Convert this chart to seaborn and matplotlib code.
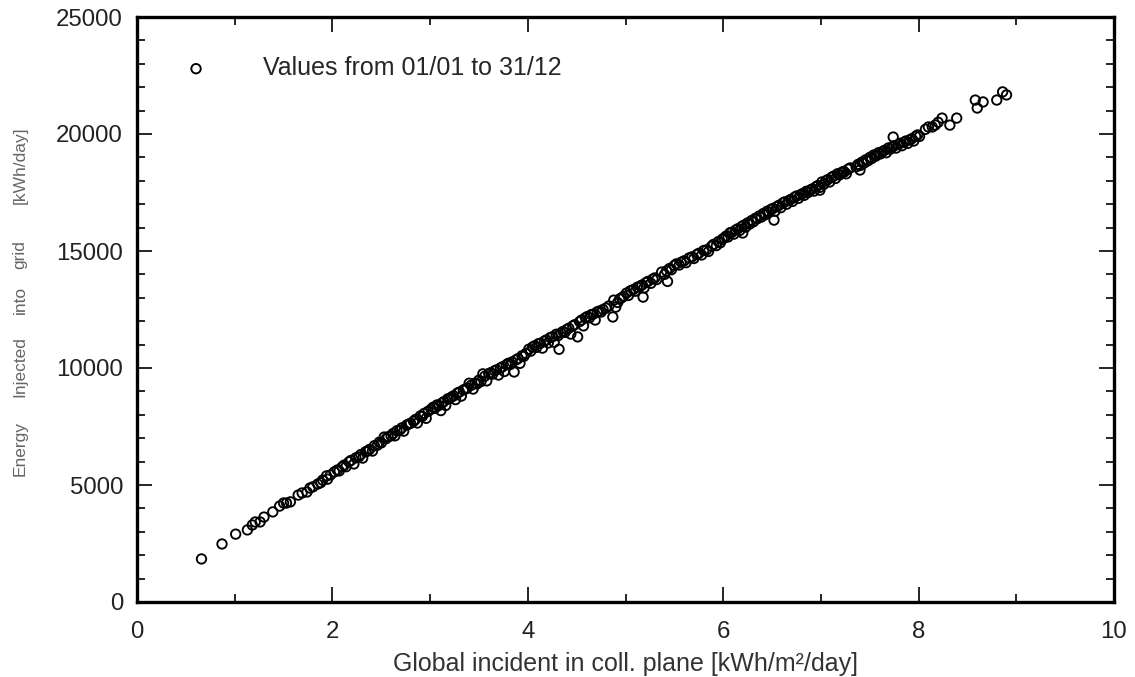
import matplotlib
matplotlib.use("Agg")
import matplotlib.pyplot as plt
from matplotlib.ticker import MultipleLocator
import seaborn as sns
import pandas as pd

# Global incident irradiation in collector plane [kWh/m2/day]
irradiance = [
    0.66, 0.87, 1.01, 1.13, 1.18, 1.21, 1.26, 1.30, 1.39, 1.46, 1.50, 1.53, 1.57, 1.65,
    1.69, 1.74, 1.77, 1.80, 1.85, 1.88, 1.90, 1.94, 1.95, 1.98,
    2.02, 2.05, 2.07, 2.10, 2.12, 2.14, 2.17, 2.19, 2.22, 2.24, 2.27, 2.29, 2.31, 2.34,
    2.36, 2.38, 2.41, 2.43, 2.46, 2.48, 2.50, 2.53, 2.55, 2.57, 2.60, 2.62, 2.64, 2.66,
    2.69, 2.71, 2.73, 2.76, 2.78, 2.80, 2.83, 2.85, 2.87, 2.90, 2.92, 2.94, 2.96, 2.98,
    3.01, 3.03, 3.05, 3.07, 3.09, 3.11, 3.12, 3.14, 3.16, 3.18, 3.20, 3.22, 3.24, 3.26,
    3.28, 3.30, 3.32, 3.34, 3.36, 3.38, 3.40, 3.42, 3.44, 3.46, 3.48, 3.50, 3.52, 3.54,
    3.56, 3.58, 3.60, 3.62, 3.64, 3.66, 3.68, 3.70, 3.72, 3.74, 3.76, 3.78, 3.80, 3.82,
    3.84, 3.86, 3.88, 3.90, 3.92, 3.94, 3.96, 3.98,
    4.01, 4.03, 4.05, 4.07, 4.09, 4.11, 4.13, 4.15, 4.17, 4.19, 4.21, 4.23, 4.25, 4.27,
    4.29, 4.31, 4.32, 4.34, 4.36, 4.38, 4.40, 4.42, 4.44, 4.46, 4.48, 4.51, 4.53, 4.55,
    4.57, 4.59, 4.61, 4.63, 4.65, 4.67, 4.69, 4.71, 4.73, 4.75, 4.77, 4.80, 4.83, 4.87,
    4.88, 4.90, 4.92, 4.94, 4.96, 4.98,
    5.01, 5.03, 5.05, 5.08, 5.10, 5.12, 5.15, 5.17, 5.18, 5.19, 5.21, 5.23, 5.26, 5.28,
    5.30, 5.32, 5.37, 5.40, 5.42, 5.43, 5.45, 5.47, 5.50, 5.52, 5.55, 5.57, 5.60, 5.62,
    5.65, 5.68, 5.70, 5.73, 5.75, 5.78, 5.80, 5.83, 5.85, 5.88, 5.90, 5.93, 5.95, 5.97,
    5.99,
    6.01, 6.03, 6.05, 6.07, 6.09, 6.11, 6.13, 6.15, 6.17, 6.19, 6.20, 6.21, 6.23, 6.25,
    6.27, 6.29, 6.31, 6.33, 6.35, 6.37, 6.39, 6.41, 6.43, 6.45, 6.47, 6.49, 6.51, 6.52,
    6.53, 6.55, 6.57, 6.59, 6.61, 6.63, 6.65, 6.67, 6.69, 6.71, 6.73, 6.75, 6.77, 6.79,
    6.81, 6.83, 6.85, 6.87, 6.89, 6.91, 6.93, 6.95, 6.97, 6.99, 6.99,
    7.01, 7.03, 7.05, 7.07, 7.09, 7.11, 7.13, 7.15, 7.17, 7.19, 7.21, 7.23, 7.24, 7.26,
    7.28, 7.30, 7.36, 7.38, 7.40, 7.40, 7.42, 7.44, 7.46, 7.48, 7.50, 7.52, 7.54, 7.56,
    7.57, 7.59, 7.61, 7.63, 7.65, 7.67, 7.69, 7.71, 7.73, 7.74, 7.75, 7.77, 7.79, 7.81,
    7.83, 7.85, 7.87, 7.89, 7.91, 7.93, 7.95, 7.97, 7.99, 8.01,
    8.07, 8.10, 8.14, 8.17, 8.20, 8.24, 8.32, 8.39, 8.58, 8.60, 8.66, 8.80, 8.86, 8.90,
]

# Energy injected into grid [kWh/day]
energy = [
    1840, 2480, 2900, 3080, 3290, 3420, 3420, 3630, 3850, 4100, 4230, 4230, 4280, 4570,
    4660, 4700, 4870, 4920, 5040, 5100, 5210, 5390, 5250, 5430,
    5560, 5640, 5600, 5780, 5850, 5780, 5990, 6050, 5900, 6160, 6200, 6300, 6150, 6420,
    6450, 6520, 6450, 6680, 6700, 6830, 6800, 7050, 6980, 7060, 7100, 7200, 7100, 7320,
    7350, 7440, 7300, 7560, 7600, 7640, 7720, 7800, 7650, 7950, 7930, 8060, 7850, 8150,
    8240, 8320, 8280, 8420, 8400, 8180, 8500, 8560, 8400, 8680, 8700, 8760, 8810, 8650,
    8930, 8970, 8800, 9060, 9100, 9140, 9350, 9260, 9100, 9350, 9320, 9480, 9420, 9750,
    9650, 9450, 9760, 9800, 9740, 9880, 9920, 9700, 10000, 10050, 9850, 10140, 10200, 10150,
    10260, 9830, 10350, 10400, 10200, 10520, 10500, 10620,
    10800, 10720, 10900, 10950, 10880, 11040, 11060, 10850, 11150, 11200, 11070, 11300, 11330, 11100,
    11440, 11380, 10800, 11500, 11560, 11520, 11650, 11700, 11450, 11800, 11850, 11330, 11980, 12050,
    11800, 12150, 12200, 12140, 12280, 12300, 12050, 12400, 12430, 12390, 12500, 12560, 12650, 12180,
    12900, 12600, 12800, 12950, 13000, 13060,
    13200, 13100, 13300, 13350, 13280, 13450, 13500, 13550, 13030, 13420, 13650, 13700, 13620, 13800,
    13850, 13780, 14100, 14000, 14150, 13700, 14250, 14200, 14380, 14450, 14400, 14520, 14580, 14500,
    14700, 14750, 14680, 14850, 14900, 14830, 15020, 15050, 14980, 15200, 15280, 15230, 15400, 15350,
    15500,
    15560, 15640, 15600, 15780, 15800, 15720, 15900, 15950, 15880, 16050, 15770, 16100, 16020, 16200,
    16150, 16300, 16250, 16400, 16380, 16500, 16450, 16600, 16550, 16700, 16650, 16780, 16820, 16320,
    16700, 16900, 16950, 16850, 17050, 17100, 17000, 17150, 17200, 17120, 17300, 17350, 17250, 17400,
    17450, 17380, 17550, 17500, 17600, 17650, 17560, 17750, 17800, 17720, 17600,
    17950, 17850, 18000, 18050, 17950, 18150, 18200, 18100, 18300, 18250, 18350, 18400, 18380, 18300,
    18500, 18550, 18600, 18700, 18650, 18460, 18800, 18750, 18900, 18850, 19000, 18950, 19100, 19050,
    19100, 19200, 19150, 19250, 19300, 19200, 19400, 19350, 19440, 19870, 19500, 19400, 19550, 19600,
    19500, 19650, 19700, 19600, 19750, 19800, 19700, 19900, 19960, 19900,
    20200, 20300, 20300, 20380, 20500, 20680, 20380, 20680, 21450, 21110, 21370, 21450, 21800, 21670,
]

x_ticks = [0, 2, 4, 6, 8, 10]
y_ticks = [0, 5000, 10000, 15000, 20000, 25000]
legend_label = "Values from 01/01 to 31/12"
x_label = "Global incident in coll. plane [kWh/m\u00b2/day]"
y_label_words = ["Energy", "Injected", "into", "grid", "[kWh/day]"]

df = pd.DataFrame({"x": irradiance, "y": energy})

sns.set_style("ticks")
plt.rcParams["font.family"] = ["Liberation Sans", "DejaVu Sans"]

fig = plt.figure(figsize=(11.35, 6.77), dpi=100)
ax = fig.add_axes([137 / 1135, 75 / 677, 977 / 1135, 585 / 677])

sns.scatterplot(data=df, x="x", y="y", ax=ax, marker="o", s=46,
                facecolors="none", edgecolors="black", linewidths=1.35,
                legend=False)

ax.set_xlim(0, 10)
ax.set_ylim(0, 25000)
ax.set_xticks(x_ticks)
ax.set_yticks(y_ticks)
ax.xaxis.set_minor_locator(MultipleLocator(1))
ax.yaxis.set_minor_locator(MultipleLocator(1000))
ax.tick_params(which="both", direction="in", top=True, right=True, width=1.2, colors="black")
ax.tick_params(which="major", length=11, labelsize=17.3, labelcolor="#222222")
ax.tick_params(axis="x", which="major", pad=14)
ax.tick_params(axis="y", which="major", pad=10)
ax.tick_params(which="minor", length=6)
for sp in ax.spines.values():
    sp.set_linewidth(2.4)
    sp.set_color("black")

ax.set_xlabel(x_label, fontsize=18, color="#333333", labelpad=6)
ax.set_ylabel("")

ax.legend([ax.collections[0]], [legend_label], loc="upper left",
          bbox_to_anchor=(0.0246, 0.950), frameon=False, fontsize=18,
          handletextpad=1.68, borderaxespad=0.0)

# y label words, spread along the left margin
word_centers = [449, 367, 300, 255, 165]
for w, cy in zip(y_label_words, word_centers):
    fig.text(20 / 1135, 1 - cy / 677, w, rotation=90, ha="center", va="center",
             fontsize=12.5, color="#666666")

fig.savefig("out.png", dpi=100)
